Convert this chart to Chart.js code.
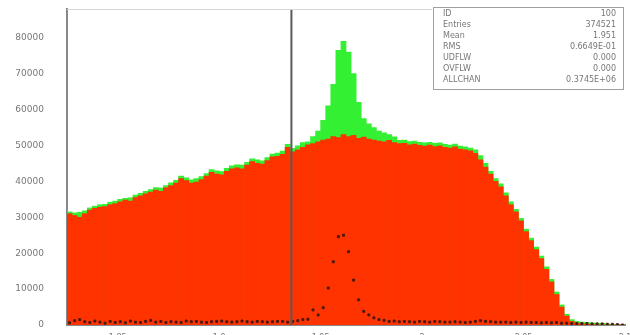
<!DOCTYPE html>
<html>
<head>
<meta charset="utf-8">
<script src="https://cdn.jsdelivr.net/npm/chart.js@4.4.1/dist/chart.umd.min.js"></script>
<style>
  body { margin: 0; background: #fff; }
  #wrap { width: 630px; height: 335px; }
</style>
</head>
<body>
<div id="wrap"><canvas id="myChart" width="630" height="335"></canvas></div>
<script>
// histogram binning (110 bins of 0.0025)
var histMin = 1.825;
var histMax = 2.1;
var binWidth = 0.0025;

// red histogram (background)
var redCounts = [
  31000, 30500, 30000, 31000, 32000, 32500, 32800, 33000, 33500, 33800,
  34300, 34800, 34500, 35500, 36000, 36500, 37000, 37600, 37200, 38200,
  38800, 39500, 40800, 40200, 39500, 39800, 40500, 41500, 42500, 42000,
  41800, 42800, 43500, 43800, 43500, 44500, 45500, 45000, 44800, 45800,
  46800, 47000, 47500, 49500, 48200, 48800, 49500, 50200, 50500, 51000,
  51500, 51800, 52500, 52200, 53000, 52500, 52800, 52000, 52300, 51800,
  51500, 51200, 51000, 51400, 50800, 50500, 50600, 50200, 50400, 50000,
  49800, 50100, 49700, 49900, 49500, 49300, 49600, 49000, 48800, 48500,
  47800, 46000, 44000, 42000, 40000, 38500, 36000, 33500, 31500, 29000,
  26000, 23500, 21000, 18500, 15500, 12000, 8500, 5000, 2500, 1000,
  500, 300, 200, 100, 50, 0, 0, 0, 0, 0
];

// green histogram (total, with the peak)
var greenCounts = [
  31500, 31200, 31400, 31800, 32600, 33100, 33500, 33600, 34200, 34500,
  35000, 35300, 35400, 36200, 36700, 37200, 37700, 38300, 38100, 38800,
  39600, 40300, 41500, 41000, 40400, 40800, 41300, 42200, 43300, 42900,
  42700, 43600, 44300, 44600, 44500, 45300, 46300, 46000, 45700, 46600,
  47600, 47900, 48400, 50300, 49200, 49900, 50800, 51000, 52500, 54000,
  57000, 61000, 67000, 76500, 79000, 76000, 70000, 62000, 57500, 56000,
  55000, 54000, 53500, 53000, 52400, 51400, 51500, 51100, 51200, 50900,
  50700, 50900, 50600, 50700, 50300, 50100, 50400, 49800, 49600, 49300,
  48800, 47200, 45000, 42800, 40800, 39300, 36800, 34300, 32200, 29700,
  26700, 24200, 21700, 19200, 16200, 12700, 9200, 5600, 3000, 1500,
  1000, 800, 700, 600, 500, 450, 300, 200, 100, 0
];

// black markers (difference)
var diffCounts = [
  600, 1200, 1500, 900, 700, 1100, 800, 500, 1000, 700,
  900, 600, 1100, 800, 700, 1000, 1300, 800, 1000, 700,
  900, 800, 700, 1100, 900, 1000, 800, 700, 900, 1000,
  1100, 900, 800, 900, 1100, 900, 800, 1000, 900, 800,
  900, 1000, 1000, 800, 1000, 1200, 1500, 1600, 4200, 2800,
  4800, 10300, 17600, 24600, 25000, 20400, 12500, 7000, 3800, 2800,
  2000, 1500, 1300, 1000, 1100, 900, 1000, 900, 800, 1000,
  900, 800, 1000, 900, 800, 800, 900, 800, 700, 800,
  1000, 1200, 1000, 900, 800, 800, 800, 700, 800, 700,
  800, 700, 700, 600, 700, 600, 700, 500, 500, 400,
  400, 400, 400, 300, 300, 300, 200, 200, 100, 0
];

var xTicks = [1.85, 1.9, 1.95, 2, 2.05, 2.1];
var yTicks = [0, 10000, 20000, 30000, 40000, 50000, 60000, 70000, 80000];
var cutValue = 1.9356;

var statsLabels = ["ID", "Entries", "Mean", "RMS", "UDFLW", "OVFLW", "ALLCHAN"];
var statsValues = ["100", "374521", "1.951", "0.6649E-01", "0.000", "0.000", "0.3745E+06"];

var centers = [];
for (var i = 0; i < redCounts.length; i++) {
  centers.push(histMin + (i + 0.5) * binWidth);
}
function pts(arr) {
  return arr.map(function(v, i) { return {x: centers[i], y: v}; });
}

var extras = {
  id: 'extras',
  afterDatasetsDraw: function(chart) {
    var c = chart.ctx, a = chart.chartArea;
    var xs = chart.scales.x;
    var px = xs.getPixelForValue(cutValue);
    c.save();
    c.strokeStyle = '#5a5a5a';
    c.lineWidth = 2;
    c.beginPath(); c.moveTo(px, a.top); c.lineTo(px, a.bottom); c.stroke();
    // frame top
    c.strokeStyle = '#d6d6d6';
    c.lineWidth = 1;
    c.beginPath(); c.moveTo(a.left, a.top + 0.5); c.lineTo(a.right, a.top + 0.5); c.stroke();
    // stats box
    c.fillStyle = '#fff';
    c.fillRect(432, 4, 193, 86);
    c.strokeStyle = '#a0a0a0';
    c.lineWidth = 1;
    c.strokeRect(433.5, 7.5, 190, 82);
    c.font = '8px "DejaVu Sans"';
    c.fillStyle = '#777';
    c.textBaseline = 'middle';
    for (var k = 0; k < statsLabels.length; k++) {
      var yy = 14 + k * 11;
      c.textAlign = 'left';
      c.fillText(statsLabels[k], 443, yy);
      c.textAlign = 'right';
      c.fillText(statsValues[k], 616, yy);
    }
    c.restore();
  }
};

var ctx = document.getElementById('myChart').getContext('2d');
var chart = new Chart(ctx, {
  type: 'bar',
  data: {
    datasets: [{
      type: 'scatter',
      label: 'diff',
      data: pts(diffCounts),
      backgroundColor: '#4a1a10',
      borderColor: '#4a1a10',
      pointRadius: 1.4,
      pointStyle: 'rect',
      order: 0
    }, {
      label: 'red',
      data: pts(redCounts),
      backgroundColor: '#ff3300',
      borderWidth: 0,
      barPercentage: 1.0,
      categoryPercentage: 1.0,
      grouped: false,
      order: 1
    }, {
      label: 'green',
      data: pts(greenCounts),
      backgroundColor: '#33f033',
      borderWidth: 0,
      barPercentage: 1.0,
      categoryPercentage: 1.0,
      grouped: false,
      order: 2
    }]
  },
  options: {
    responsive: false,
    animation: false,
    layout: { padding: { top: 9, right: 5, left: 0, bottom: 0 } },
    plugins: { legend: { display: false }, tooltip: { enabled: false } },
    scales: {
      x: {
        type: 'linear',
        min: histMin,
        max: histMax,
        offset: false,
        grid: { display: false },
        border: { display: true, color: '#888', width: 2 },
        afterBuildTicks: function(s) { s.ticks = xTicks.map(function(v) { return {value: v}; }); },
        afterFit: function(s) { s.height = 10; s.paddingLeft = 0; s.paddingRight = 0; },
        ticks: {
          padding: 0,
          maxRotation: 0,
          autoSkip: false,
          color: '#777',
          font: { family: 'DejaVu Sans', size: 8 },
          callback: function(v) { return String(Math.round(v * 100) / 100); }
        }
      },
      y: {
        min: 0,
        max: 88000,
        grid: { display: false },
        border: { display: true, color: '#888', width: 2 },
        afterBuildTicks: function(s) { s.ticks = yTicks.map(function(v) { return {value: v}; }); },
        afterFit: function(s) { s.width = 67; s.paddingTop = 0; s.paddingBottom = 0; },
        ticks: {
          padding: 15,
          color: '#777',
          font: { family: 'DejaVu Sans', size: 9 },
          callback: function(v) { return String(v); }
        }
      }
    }
  },
  plugins: [extras]
});
</script>
</body>
</html>
